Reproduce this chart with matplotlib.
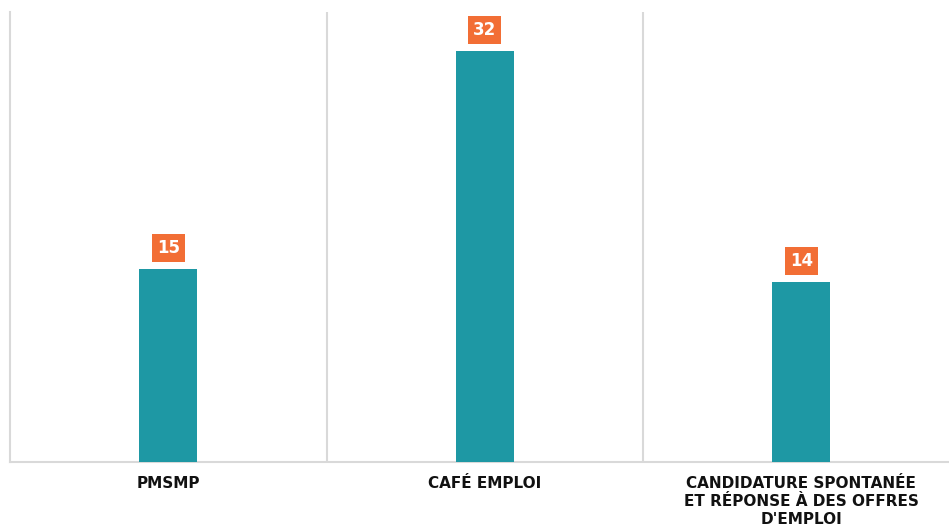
import matplotlib
matplotlib.use("Agg")
import matplotlib.pyplot as plt

categories = ["PMSMP", "CAFÉ EMPLOI", "CANDIDATURE SPONTANÉE\nET RÉPONSE À DES OFFRES\nD'EMPLOI"]
values = [15, 32, 14]

bar_color = "#1E98A4"
label_color = "#F26E35"
grid_color = "#D9D9D9"

fig = plt.figure(figsize=(9.49, 5.29), dpi=100)
ax = fig.add_axes([10/949, 67/529, 939/949, 450/529])

x = list(range(len(categories)))
ax.bar(x, values, width=0.183, color=bar_color, zorder=3)

ax.set_xlim(-0.5, -0.5 + 939/316.5)
ax.set_ylim(0, 35)

for b in [0.5, 1.5]:
    ax.axvline(b, color=grid_color, lw=1.5, zorder=1)

for s in ["top", "right"]:
    ax.spines[s].set_visible(False)
ax.spines["left"].set_color(grid_color)
ax.spines["left"].set_linewidth(1.5)
ax.spines["bottom"].set_color(grid_color)
ax.spines["bottom"].set_linewidth(1.5)

ax.set_yticks([])
ax.set_xticks(x)
ax.set_xticklabels(categories, fontsize=11, fontweight="bold", color="#111111",
                   linespacing=1.25, family="DejaVu Sans")
ax.tick_params(axis="x", length=0, pad=10)

for xi, v in zip(x, values):
    ax.annotate(str(v), xy=(xi, v), xytext=(0, 15), textcoords="offset points",
                ha="center", va="center", fontsize=12, fontweight="bold", color="white",
                bbox=dict(boxstyle="square,pad=0.3", fc=label_color, ec="none"), zorder=4)

fig.savefig("out.png", dpi=100)
